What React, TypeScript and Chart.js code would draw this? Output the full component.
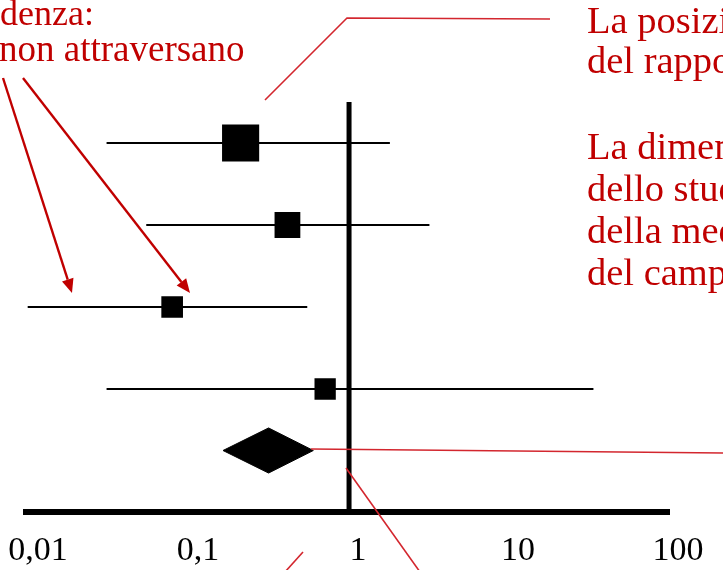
import { useEffect, useRef } from "react";
import { Chart, registerables } from "chart.js";

Chart.register(...registerables);

// ---- data ----
const studies = ["Studio 1", "Studio 2", "Studio 3", "Studio 4"];
const rowPositions = [9, 7, 5, 3];
const oddsRatios = [0.21, 0.412, 0.0784, 0.709];
const ciLower = [0.0305, 0.054, 0.0098, 0.0305];
const ciUpper = [1.8, 3.18, 0.548, 33.7];
const weights = [46.5, 22.4, 15.8, 15.3];

const pooledRow = 1.5;
const pooledEstimate = 0.314;
const pooledLower = 0.163;
const pooledUpper = 0.598;

const noEffect = 1;
const tickValues = [0.01, 0.1, 1, 10, 100];
const tickLabels = ["0,01", "0,1", "1", "10", "100"];

const leftNotes = ["denza:", "non attraversano"];
const rightNotesTop = ["La posizione", "del rapporto"];
const rightNotesBottom = ["La dimensione", "dello studio", "della media", "del campione"];

const RED = "#c00000";
const LINE_RED = "#d3262e";
const SERIF = '"Liberation Serif", "Times New Roman", serif';

function drawArrow(ctx: CanvasRenderingContext2D, x1: number, y1: number, x2: number, y2: number) {
  const ang = Math.atan2(y2 - y1, x2 - x1);
  const head = 14;
  const wing = 6;
  const bx = x2 - head * Math.cos(ang);
  const by = y2 - head * Math.sin(ang);
  ctx.beginPath();
  ctx.moveTo(x1, y1);
  ctx.lineTo(bx, by);
  ctx.stroke();
  ctx.beginPath();
  ctx.moveTo(x2, y2);
  ctx.lineTo(bx + wing * Math.sin(ang), by - wing * Math.cos(ang));
  ctx.lineTo(bx - wing * Math.sin(ang), by + wing * Math.cos(ang));
  ctx.closePath();
  ctx.fill();
}

const annotationPlugin = {
  id: "annotations",
  afterDraw(chart: any) {
    const ctx: CanvasRenderingContext2D = chart.ctx;
    ctx.save();
    // thin red leader lines
    ctx.strokeStyle = LINE_RED;
    ctx.lineWidth = 1.6;
    ctx.beginPath();
    ctx.moveTo(265, 100);
    ctx.lineTo(347, 18);
    ctx.lineTo(550, 19);
    ctx.stroke();
    ctx.beginPath();
    ctx.moveTo(311, 449);
    ctx.lineTo(723, 453);
    ctx.stroke();
    ctx.beginPath();
    ctx.moveTo(346, 468);
    ctx.lineTo(420, 572);
    ctx.stroke();
    ctx.beginPath();
    ctx.moveTo(303, 552);
    ctx.lineTo(285, 572);
    ctx.stroke();

    // arrows
    ctx.strokeStyle = RED;
    ctx.fillStyle = RED;
    ctx.lineWidth = 2.4;
    drawArrow(ctx, 3, 78, 72, 293);
    drawArrow(ctx, 23, 78, 190, 293);

    // texts
    ctx.fillStyle = RED;
    ctx.textBaseline = "alphabetic";
    ctx.textAlign = "left";
    ctx.font = `36px ${SERIF}`;
    ctx.fillText(leftNotes[0], 0, 25);
    ctx.font = `37px ${SERIF}`;
    ctx.fillText(leftNotes[1], -1, 61);
    ctx.font = `38.5px ${SERIF}`;
    rightNotesTop.forEach((t, i) => ctx.fillText(t, 587, 33 + i * 40));
    rightNotesBottom.forEach((t, i) => ctx.fillText(t, 587, 159 + i * 42));
    ctx.restore();
  },
};

export default function App() {
  const ref = useRef<HTMLCanvasElement | null>(null);

  useEffect(() => {
    if (!ref.current) return;
    const diamondHalf = 0.55;
    const ciSets = studies.map((s, i) => ({
      label: s + " IC",
      data: [
        { x: ciLower[i], y: rowPositions[i] },
        { x: ciUpper[i], y: rowPositions[i] },
      ],
      showLine: true,
      borderColor: "#000",
      borderWidth: 2,
      pointRadius: 0,
      fill: false,
    }));
    const chart = new Chart(ref.current, {
      type: "scatter",
      data: {
        datasets: [
          ...ciSets,
          {
            label: "Nessun effetto",
            data: [
              { x: noEffect, y: 0 },
              { x: noEffect, y: 10 },
            ],
            showLine: true,
            borderColor: "#000",
            borderWidth: 5,
            pointRadius: 0,
            fill: false,
          },
          {
            label: "Stima",
            data: studies.map((_, i) => ({ x: oddsRatios[i], y: rowPositions[i] })),
            showLine: false,
            pointStyle: "rect",
            pointRadius: weights.map((w) => 3.85 * Math.sqrt(w)),
            backgroundColor: "#000",
            borderColor: "#000",
            borderWidth: 0,
          },
          {
            label: "Complessivo",
            data: [
              { x: pooledLower, y: pooledRow },
              { x: pooledEstimate, y: pooledRow + diamondHalf },
              { x: pooledUpper, y: pooledRow },
              { x: pooledEstimate, y: pooledRow - diamondHalf },
              { x: pooledLower, y: pooledRow },
            ],
            showLine: true,
            fill: "shape",
            backgroundColor: "#000",
            borderColor: "#000",
            borderWidth: 1,
            pointRadius: 0,
            tension: 0,
          },
        ] as any,
      },
      options: {
        responsive: false,
        animation: false,
        devicePixelRatio: 1,
        layout: { padding: { left: 22, right: 54, top: 102, bottom: 0 } },
        plugins: {
          legend: { display: false },
          tooltip: { enabled: false },
        },
        scales: {
          x: {
            type: "logarithmic",
            min: 0.0096,
            max: 100,
            afterBuildTicks: (s: any) => {
              s.ticks = tickValues.map((v) => ({ value: v }));
            },
            afterFit: (s: any) => {
              s.paddingLeft = 0;
              s.paddingRight = 0;
              s.height = 58;
            },
            ticks: {
              autoSkip: false,
              maxRotation: 0,
              minRotation: 0,
              padding: 19,
              labelOffset: 9,
              color: "#000",
              font: { family: SERIF, size: 34 },
              callback: (_v: any, i: number) => tickLabels[i],
            },
            grid: { display: false, drawTicks: false },
            border: { display: true, color: "#000", width: 6 },
          },
          y: {
            type: "linear",
            display: false,
            min: 0,
            max: 10,
          },
        },
      },
      plugins: [annotationPlugin],
    });
    return () => chart.destroy();
  }, []);

  return (
    <div style={{ position: "absolute", left: 0, top: 0, width: 723, height: 570, background: "#fff" }}>
      <canvas ref={ref} width={723} height={570} style={{ display: "block", width: 723, height: 570 }} />
    </div>
  );
}
